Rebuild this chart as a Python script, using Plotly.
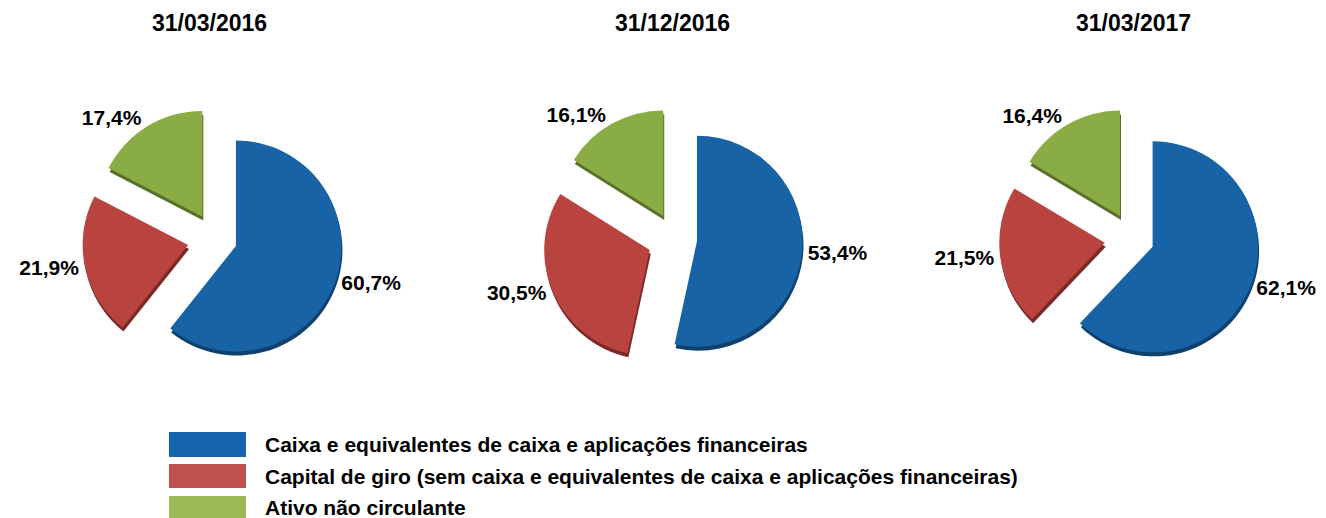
import plotly.graph_objects as go

W, H = 1326, 518
OFF = 8  # page body margin offset of the plot div

categories = [
    "Caixa e equivalentes de caixa e aplicações financeiras",
    "Capital de giro (sem caixa e equivalentes de caixa e aplicações financeiras)",
    "Ativo não circulante",
]
dates = ["31/03/2016", "31/12/2016", "31/03/2017"]
values_2016_03 = [60.7, 21.9, 17.4]
values_2016_12 = [53.4, 30.5, 16.1]
values_2017_03 = [62.1, 21.5, 16.4]
series = [values_2016_03, values_2016_12, values_2017_03]

slice_colors = ["#1863A5", "#B8433F", "#8AAC45"]
edge_colors = ["#0F416F", "#7A2927", "#5A7029"]
legend_colors = ["#1565AE", "#C0504D", "#9BBB59"]
pulls = [0.2, 0.27, 0.25]

FONT = "Arial, Liberation Sans, sans-serif"


def px_x(p):
    return (p - OFF) / W


def px_y(p):
    return 1 - (p - OFF) / H


pie_cx = [216, 676, 1133]
pie_cy = 239
box = 268
depth = 4
title_x = [210, 672, 1133]

fig = go.Figure()
for i, vals in enumerate(series):
    cx = pie_cx[i]
    fig.add_trace(go.Pie(
        labels=categories, values=vals, sort=False, direction="clockwise", rotation=0,
        pull=pulls, textinfo="none", hoverinfo="skip", showlegend=False, automargin=False,
        marker=dict(colors=edge_colors, line=dict(width=0)),
        domain=dict(x=[px_x(cx - box / 2 + 1), px_x(cx + box / 2 + 1)],
                    y=[px_y(pie_cy + depth + box / 2), px_y(pie_cy + depth - box / 2)]),
    ))
    fig.add_trace(go.Pie(
        labels=categories,
        values=vals,
        text=[f"{v:.1f}".replace(".", ",") + "%" for v in vals],
        textinfo="text",
        textposition="outside",
        textfont=dict(family=FONT, size=21, color="#000000", weight="bold"),
        sort=False,
        direction="clockwise",
        rotation=0,
        pull=pulls,
        automargin=False,
        marker=dict(colors=slice_colors, line=dict(width=0)),
        showlegend=False,
        hoverinfo="label+percent",
        domain=dict(x=[px_x(cx - box / 2), px_x(cx + box / 2)],
                    y=[px_y(pie_cy + box / 2), px_y(pie_cy - box / 2)]),
    ))

annotations = []
for i, d in enumerate(dates):
    annotations.append(dict(
        x=px_x(title_x[i]), y=px_y(23), xref="paper", yref="paper",
        text=f"<b>{d}</b>", showarrow=False, xanchor="center", yanchor="middle",
        font=dict(family=FONT, size=23, color="#000000"),
    ))

shapes = []
sw_top = [432, 464, 496]
sw_bot = [457, 488, 520]
for i, cat in enumerate(categories):
    shapes.append(dict(
        type="rect", xref="paper", yref="paper",
        x0=px_x(169), x1=px_x(246), y0=px_y(sw_bot[i]), y1=px_y(sw_top[i]),
        fillcolor=legend_colors[i], line=dict(width=0),
    ))
    annotations.append(dict(
        x=px_x(263), y=px_y([444, 476, 507][i]), xref="paper", yref="paper",
        text=f"<b>{cat}</b>", showarrow=False, xanchor="left", yanchor="middle",
        font=dict(family=FONT, size=21, color="#000000"),
    ))

fig.update_layout(
    width=W, height=H,
    margin=dict(l=0, r=0, t=0, b=0, pad=0, autoexpand=False),
    paper_bgcolor="#FFFFFF",
    plot_bgcolor="#FFFFFF",
    annotations=annotations,
    shapes=shapes,
    showlegend=False,
)

fig.write_html("out.html")
